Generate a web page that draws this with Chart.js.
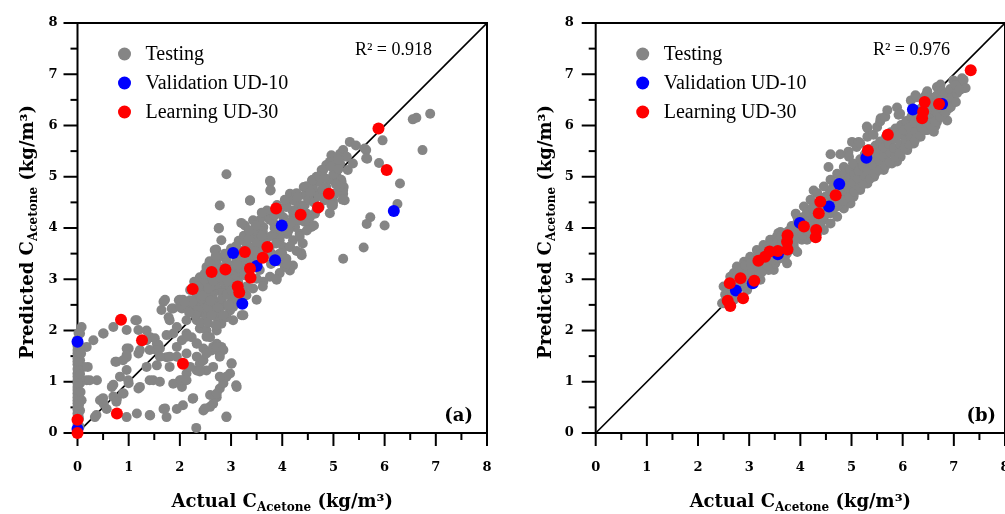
<!DOCTYPE html>
<html>
<head>
<meta charset="utf-8">
<script src="https://cdn.jsdelivr.net/npm/chart.js@4.4.1/dist/chart.umd.min.js"></script>
<style>
  body { margin: 0; background: #fff; width: 1005px; height: 514px; overflow: hidden; position: relative; }
  .panel { position: absolute; top: 0; height: 514px; }
</style>
</head>
<body>
<div class="panel" style="left:0;width:500px"><canvas id="chartA"></canvas></div>
<!-- panel b runs past the right edge of the window, like the cropped original -->
<div class="panel" style="left:500px;width:511px"><canvas id="chartB"></canvas></div>
<script>
// ---- data: [actual, predicted] in kg/m3 ----
const testingA = [
  [6.89,6.23],[6.62,6.15],[6.55,6.12],[6.74,5.52],[5.96,5.71],[5.89,5.27],[6.30,4.87],[6.25,4.47],[6.00,4.05],[5.72,4.21],
  [5.65,4.08],[5.59,3.62],[5.19,3.40],[5.61,5.55],[5.66,5.35],[5.32,5.68],[5.44,5.61],[5.19,5.52],[5.13,5.45],[4.96,5.42],
  [4.93,5.29],[5.03,5.19],[5.13,5.26],[5.16,4.90],[5.20,4.80],[5.22,4.54],[5.19,4.67],[4.99,4.44],[4.77,5.13],[4.67,5.00],
  [4.58,4.93],[4.42,4.80],[4.60,4.80],[4.73,4.90],[4.44,4.64],[4.57,4.02],[4.38,3.47],[4.15,3.17],[4.05,3.24],[3.89,3.01],
  [4.10,3.89],[4.15,4.67],[4.21,4.54],[4.31,4.47],[4.20,4.34],[4.08,4.41],[4.02,4.21],[3.82,4.12],[3.92,3.89],[3.77,4.90],
  [3.77,4.73],[3.37,4.54],[2.91,5.05],[2.78,4.44],[2.76,3.99],[2.81,3.76],[2.71,3.58],[3.27,4.05],[3.43,3.89],[3.56,3.95],
  [3.66,3.76],[3.63,4.02],[3.72,3.82],[2.39,3.04],[2.52,2.91],[2.33,2.65],[2.20,2.59],[2.13,2.46],[2.04,2.43],[2.39,2.52],
  [2.52,2.59],[2.65,2.72],[2.78,2.78],[2.91,2.85],[3.04,2.91],[2.98,3.04],[3.11,3.11],[3.24,3.24],[3.17,3.37],[3.43,3.43],
  [3.56,3.63],[3.30,3.69],[2.52,3.24],[2.65,3.30],[2.78,3.24],[2.43,2.85],[2.26,2.39],[2.46,2.33],[2.65,2.43],[2.72,2.26],
  [2.85,2.49],[3.01,2.56],[3.24,2.30],[3.04,2.20],[2.33,2.20],[2.39,2.04],[2.52,2.00],[2.59,1.87],[2.72,1.74],[2.78,1.55],
  [2.62,1.61],[2.46,1.65],[2.33,1.74],[2.23,1.87],[2.13,1.94],[2.04,1.81],[1.94,1.68],[1.87,1.94],[1.74,1.91],[1.98,2.59],
  [1.87,2.43],[1.68,2.56],[1.78,2.26],[2.13,2.20],[2.46,1.42],[2.52,1.22],[2.33,1.22],[2.39,1.35],[3.01,1.35],[2.98,1.16],
  [2.85,1.03],[2.78,0.87],[2.72,0.70],[2.65,0.57],[2.59,0.51],[2.46,0.44],[3.10,0.93],[2.91,0.31],[2.32,0.10],[2.25,0.67],
  [2.06,0.54],[1.94,0.47],[1.68,0.47],[1.42,0.34],[2.04,0.90],[2.00,1.03],[2.13,1.16],[1.74,1.48],[1.55,1.32],[1.48,1.03],
  [1.35,1.29],[1.55,1.74],[1.61,1.65],[1.42,1.87],[1.13,2.20],[1.35,2.00],[1.19,1.55],[1.00,1.65],[0.96,1.48],[1.00,0.97],
  [1.19,0.87],[0.90,0.77],[0.77,0.67],[0.67,0.90],[0.74,1.39],[0.70,2.07],[0.51,1.94],[0.31,1.81],[0.18,1.68],[0.20,1.29],
  [0.18,1.03],[0.38,1.03],[0.44,0.64],[0.51,0.57],[0.57,0.47],[0.34,0.31],[0.96,0.31],[1.16,0.38],[1.74,0.31],[1.61,1.00],
  [1.87,0.96],[2.13,1.55],[0.05,1.94],[0.08,2.07],[0.05,1.42],[0.12,1.29],[0.05,0.97],[0.08,0.64],[0.05,0.44],[0,1.55],
  [0,1.16],[0,0.77],[0,0.51],[0,1.03],[0,1.34],[0,0.90],[0,0.64],[0,0.38],[0,0.16],[0,1.70],
  [0,1.46],[0,1.25],[0.03,0.28],[0.04,0.12],[0,0.25],[0,0.46],[0,0.58],[0,0.70],[0,0.84],[0,0.97],
  [0,1.10],[0,1.40],[0,1.62],[0,1.82],[0.02,1.95],[0.03,0.55],[0.06,0.80],[0.05,1.15],[0.04,1.70],[0.07,1.55],
  [0.02,0.35],[3.95,3.76],[4.02,3.63],[4.15,3.63],[4.21,3.76],[4.34,3.89],[4.08,3.89],[4.25,4.02],[4.41,4.15],[4.54,4.21],
  [4.64,4.28],[4.73,4.41],[4.83,4.54],[4.93,4.60],[5.03,4.67],[4.86,4.80],[4.99,4.93],[5.06,5.03],[5.28,5.13],[5.38,5.26],
  [5.26,5.39],[5.09,5.39],[4.99,4.54],[3.70,4.21],[3.56,4.15],[3.70,4.34],[3.43,4.15],[3.50,3.76],[3.37,3.63],[3.79,3.50],
  [3.95,3.50],[4.08,3.40],[4.21,3.27],[3.34,3.37],[3.04,3.27],[3.11,3.43],[2.91,3.37],[2.75,3.43],[3.50,3.01],[3.63,2.95],
  [3.43,2.82],[3.30,2.69],[3.21,2.30],[3.11,2.59],[2.98,2.39],[2.91,2.26],[2.81,2.13],[2.72,2.00],[2.65,1.68],[2.81,1.68],
  [3.76,4.92],[3.77,4.74],[3.37,4.53],[4.86,5.23],[5.12,4.94],[5.18,4.55],[3.20,4.10],[2.76,4.00],[2.68,3.57],[4.28,4.68],
  [4.47,4.81],[4.60,4.94],[4.73,4.68],[4.99,4.49],[4.54,4.03],[4.34,3.83],[4.15,3.64],[3.95,3.83],[3.62,3.93],[3.50,3.71],
  [3.30,3.57],[3.11,3.38],[2.91,3.25],[2.72,3.38],[2.52,3.18],[2.39,2.99],[2.20,2.79],[2.06,2.60],[2.39,2.46],[2.65,2.60],
  [2.84,2.73],[3.04,2.46],[2.78,2.34],[2.52,2.27],[3.56,3.18],[3.76,3.05],[3.95,3.12],[4.08,3.31],[3.62,2.86],[3.30,2.86],
  [3.50,2.60],[3.89,2.99],[4.15,4.03],[4.21,4.22],[4.67,4.35],[4.93,4.29],[3.82,3.44],[3.69,3.51],[4.08,4.42],[3.95,4.29],
  [3.76,4.16],[0.50,1.94],[0.96,2.01],[1.16,2.20],[1.19,2.01],[1.51,1.85],[1.58,1.72],[1.71,2.60],[1.84,2.43],[1.64,2.40],
  [2.00,2.46],[2.00,2.60],[1.80,2.20],[1.94,2.07],[2.13,1.88],[1.61,1.49],[1.54,1.62],[1.41,1.62],[0.96,1.65],[0.96,1.52],
  [0.76,1.39],[0.89,1.42],[0.24,1.03],[0.70,0.94],[0.83,1.10],[0.99,1.03],[1.22,0.90],[1.41,1.03],[0.50,0.68],[0.70,0.71],
  [0.89,0.77],[0.37,0.35],[1.41,0.35],[1.71,0.48],[2.03,1.03],[1.80,1.49],[1.80,1.29],[2.20,1.29],[2.13,1.03],[2.26,0.68],
  [2.49,0.48],[2.59,0.74],[2.72,0.77],[2.85,0.97],[2.91,1.10],[3.01,1.36],[2.91,0.32],[3.11,0.90],[2.45,1.42],[2.52,1.55],
  [2.33,1.75],[2.52,1.88],[2.72,1.68],[2.85,1.62],[2.78,1.49],[2.65,1.29],[2.78,1.10],[2.33,1.49],[2.39,1.20],[1.35,1.81],
  [1.22,1.62],[0.96,1.23],[0.76,0.61],[1.94,1.49],[5.09,5.33],[5.64,5.52],[5.64,5.36],[5.15,4.94],[5.19,4.74],[4.80,5.13],
  [4.73,5.00],[4.47,4.81],[4.96,4.45],[4.44,4.45],[4.44,4.12],[4.60,4.74],[5.12,4.81],[4.37,3.51],
  // dense cluster round (2.7, 2.7) and the band above it
  [2.25,2.55],[2.30,2.75],[2.35,2.40],[2.42,2.62],[2.45,2.78],[2.48,2.95],[2.55,2.45],[2.58,2.70],[2.60,2.85],[2.62,3.05],
  [2.68,2.55],[2.70,2.90],[2.73,3.10],[2.75,2.45],[2.82,2.62],[2.85,2.95],[2.88,3.12],[2.92,2.70],[2.95,2.50],[2.97,3.18],
  [3.02,2.78],[3.06,3.00],[3.08,2.68],[3.14,2.95],[3.18,3.20],[3.20,2.80],[3.26,3.08],[3.28,3.45],[3.35,3.15],[3.40,3.30],
  [3.45,3.55],[3.52,3.45],[2.30,2.30],[2.40,2.15],[2.55,2.15],[2.62,2.30],[2.70,2.10],[2.85,2.30],[2.18,2.35],[2.10,2.55],
  [2.28,2.95],[2.48,3.10],[2.58,3.35],[2.70,3.45],[2.88,3.50],[3.00,3.60],[3.15,3.75],[3.25,3.85],[3.35,3.80],[3.45,3.95],
  [3.60,3.85],[3.62,3.55],[3.75,3.60],[3.80,3.85],[3.88,3.70],[3.85,4.00],[3.98,3.95],[4.05,4.05],[4.12,3.95],[4.18,4.12],
  [4.28,4.30],[4.35,4.15],[4.40,4.40],[4.48,4.28],[4.52,4.55],[4.62,4.50],[4.70,4.62],[4.78,4.75],[4.85,4.65],[4.90,4.95],
  [5.00,5.05],[5.05,4.85],[4.95,5.20],[5.10,5.15],[4.82,4.98],[4.55,4.70],[4.30,4.60],[4.05,4.55],[3.90,4.45],[3.85,4.25],
  [3.60,4.30],[3.48,4.05],[3.35,3.95],[3.20,3.55],[3.10,3.65],[3.92,3.35],[4.00,3.50],[3.78,3.30],[4.28,3.55],[4.40,3.70],
  [4.48,3.95],[4.62,4.05],[2.44,2.68],[2.56,2.82],[2.66,2.96],[2.80,3.02],[2.94,2.96],[3.12,3.28],[2.36,2.86],[2.60,2.58]
];
const validationA = [
  [6.18,4.33],[3.99,4.05],[3.04,3.51],[3.50,3.26],[3.86,3.37],[3.22,2.52],[0,1.78],[0,0.08]
];
const learningA = [
  [5.88,5.94],[6.04,5.13],[4.91,4.67],[4.70,4.40],[4.36,4.26],[3.88,4.38],[3.71,3.63],[3.27,3.53],[3.62,3.42],[3.37,3.21],
  [3.38,3.03],[2.89,3.19],[2.62,3.14],[3.13,2.86],[3.16,2.74],[2.25,2.81],[0.85,2.21],[1.26,1.81],[2.06,1.35],[0.77,0.38],
  [0,0.26],[0,0]
];

const testingB = [
  [2.47,2.53],[2.53,2.70],[2.50,2.53],[2.57,2.73],[2.66,2.99],[2.73,2.86],[2.70,2.86],[2.70,2.60],[2.63,3.05],[2.50,2.86],
  [2.70,3.12],[2.76,3.05],[2.76,3.25],[2.82,3.12],[2.83,2.95],[2.90,3.21],[2.90,3.34],[2.92,3.05],[2.96,2.79],[2.99,3.05],
  [2.99,3.18],[3.02,3.44],[3.09,3.31],[3.12,3.25],[3.15,3.15],[3.15,3.57],[3.22,2.99],[3.25,3.18],[3.28,3.25],[3.28,3.51],
  [3.28,3.67],[3.31,3.38],[3.35,3.64],[3.38,3.18],[3.41,3.77],[3.44,3.70],[3.45,3.31],[3.48,3.18],[3.51,3.31],[3.54,3.73],
  [3.54,3.83],[3.57,3.90],[3.57,3.77],[3.61,3.41],[3.61,3.92],[3.64,3.64],[3.67,3.90],[3.70,3.44],[3.74,3.51],[3.74,3.31],
  [3.81,3.96],[3.87,3.67],[3.90,3.57],[3.91,4.28],[3.94,3.53],[3.94,4.09],[3.94,4.22],[3.96,4.03],[4.00,3.80],[4.03,3.77],
  [4.07,4.22],[4.07,4.42],[4.13,3.77],[4.16,3.83],[4.16,4.22],[4.20,3.96],[4.20,4.32],[4.20,4.55],[4.26,4.73],[4.29,4.10],
  [4.29,4.42],[4.33,3.90],[4.33,4.45],[4.33,4.68],[4.39,4.06],[4.46,4.16],[4.46,3.96],[4.46,4.81],[4.49,4.29],[4.49,4.61],
  [4.55,5.19],[4.59,5.44],[4.59,4.29],[4.59,4.09],[4.59,4.94],[4.62,4.42],[4.62,4.75],[4.65,4.81],[4.72,4.42],[4.72,4.22],
  [4.72,5.06],[4.78,5.44],[4.78,4.94],[4.79,4.58],[4.81,4.62],[4.81,4.94],[4.85,4.38],[4.85,5.19],[4.91,4.91],[4.92,4.68],
  [4.92,5.00],[4.94,4.81],[4.94,5.49],[4.95,5.39],[4.98,4.81],[4.98,4.48],[5.04,4.61],[5.04,5.13],[5.04,4.65],[5.07,4.94],
  [5.10,5.58],[5.01,5.68],[5.11,4.87],[5.14,5.68],[5.17,4.74],[5.17,5.26],[5.17,5.65],[5.17,5.17],[5.21,5.07],[5.27,5.06],
  [5.30,5.98],[5.31,5.95],[5.31,5.78],[5.31,4.87],[5.37,5.45],[5.43,5.82],[5.43,5.04],[5.44,5.19],[5.44,5.00],[5.50,5.58],
  [5.50,5.97],[5.56,6.08],[5.57,6.14],[5.57,5.39],[5.63,5.65],[5.63,5.13],[5.63,5.43],[5.66,6.17],[5.69,5.30],[5.70,6.30],
  [5.76,5.49],[5.76,5.71],[5.79,5.26],[5.89,6.35],[5.89,5.30],[5.92,6.21],[5.92,5.84],[5.95,6.23],[5.96,5.58],[5.96,5.39],
  [6.02,5.82],[6.09,5.52],[6.09,5.97],[6.16,5.84],[6.16,6.49],[6.22,5.65],[6.25,6.59],[6.28,6.04],[6.28,6.55],[6.28,6.08],
  [6.35,5.78],[6.35,5.95],[6.41,6.17],[6.45,6.59],[6.48,5.91],[6.48,6.67],[6.53,6.04],[6.54,6.30],[6.54,6.55],[6.61,6.04],
  [6.61,5.88],[6.64,5.99],[6.67,6.75],[6.67,6.07],[6.74,6.23],[6.74,6.69],[6.74,6.80],[6.87,6.36],[6.87,6.10],[6.90,6.33],
  [6.97,6.56],[6.97,6.43],[6.99,6.88],[7.00,6.49],[7.13,6.82],[7.16,6.92],[7.16,6.72],[7.19,6.89],[7.23,6.73],
  // filling of the solid band
  [2.56,2.62],[2.58,2.81],[2.64,2.69],[2.67,2.93],[2.74,2.77],[2.78,2.97],[2.86,2.86],[2.87,3.03],[2.84,3.16],[2.94,2.93],
  [2.97,3.13],[2.93,3.27],[3.04,3.01],[3.06,3.16],[3.03,3.31],[3.14,3.07],[3.17,3.24],[3.16,3.42],[3.24,3.13],[3.26,3.36],
  [3.23,3.49],[3.36,3.27],[3.34,3.46],[3.33,3.57],[3.46,3.37],[3.44,3.53],[3.43,3.66],[3.56,3.42],[3.53,3.61],[3.56,3.74],
  [3.66,3.52],[3.64,3.71],[3.63,3.84],[3.76,3.62],[3.73,3.79],[3.77,3.94],[3.84,3.71],[3.86,3.86],[3.83,4.04],[3.93,3.79],
  [3.97,3.96],[3.95,4.14],[4.04,3.87],[4.06,4.06],[4.03,4.19],[4.14,3.94],[4.16,4.11],[4.13,4.31],[4.24,4.03],[4.26,4.21],
  [4.23,4.39],[4.36,4.11],[4.34,4.31],[4.37,4.49],[4.44,4.22],[4.46,4.37],[4.43,4.57],[4.56,4.29],[4.54,4.47],[4.57,4.67],
  [4.64,4.36],[4.66,4.56],[4.63,4.74],[4.76,4.46],[4.74,4.66],[4.73,4.84],[4.77,5.01],[4.84,4.53],[4.86,4.73],[4.83,4.89],
  [4.87,5.06],[4.96,4.61],[4.93,4.79],[4.96,4.99],[4.97,5.14],[5.06,4.71],[5.03,4.89],[5.06,5.04],[5.03,5.26],[5.16,4.79],
  [5.13,4.96],[5.14,5.11],[5.17,5.34],[5.24,4.86],[5.26,5.01],[5.23,5.21],[5.26,5.44],[5.36,4.96],[5.33,5.13],[5.36,5.29],
  [5.34,5.54],[5.46,5.06],[5.43,5.23],[5.44,5.39],[5.47,5.61],[5.54,5.13],[5.56,5.31],[5.53,5.47],[5.56,5.69],[5.66,5.21],
  [5.64,5.39],[5.63,5.57],[5.67,5.77],[5.74,5.29],[5.76,5.47],[5.73,5.64],[5.77,5.87],[5.86,5.39],[5.84,5.56],[5.83,5.74],
  [5.86,5.94],[5.94,5.46],[5.96,5.63],[5.93,5.81],[5.97,6.01],[6.04,5.56],[6.06,5.71],[6.03,5.91],[6.07,6.09],[6.14,5.63],
  [6.16,5.79],[6.13,5.97],[6.17,6.17],[6.24,5.71],[6.26,5.89],[6.23,6.06],[6.27,6.24],[6.34,5.81],[6.36,5.97],[6.33,6.14],
  [6.37,6.34],[6.44,5.91],[6.46,6.06],[6.43,6.23],[6.47,6.41],[6.54,6.01],[6.56,6.14],[6.53,6.33],[6.57,6.49],[6.64,6.09],
  [6.66,6.26],[6.63,6.41],[6.67,6.59],[6.74,6.16],[6.76,6.33],[6.73,6.49],[6.77,6.67],[6.84,6.26],[6.86,6.43],[6.83,6.61],
  [6.94,6.36],[6.96,6.54],[6.93,6.71],[7.04,6.46],[7.06,6.63],[7.03,6.79],[7.11,6.69]
];
const validationB = [
  [6.77,6.42],[6.20,6.31],[5.29,5.37],[4.76,4.86],[4.56,4.42],[3.99,4.10],[3.56,3.49],[3.07,2.92],[2.74,2.78]
];
const learningB = [
  [7.33,7.08],[6.71,6.42],[6.43,6.46],[6.40,6.27],[6.38,6.14],[5.71,5.82],[5.32,5.51],[4.69,4.64],[4.39,4.51],[4.36,4.29],
  [4.31,3.96],[4.30,3.82],[4.07,4.03],[3.75,3.86],[3.74,3.73],[3.75,3.58],[3.56,3.55],[3.40,3.54],[3.31,3.44],[3.18,3.36],
  [3.10,2.97],[2.83,3.02],[2.62,2.92],[2.88,2.63],[2.58,2.58],[2.63,2.48]
];

const identityLine = [[0,0],[8,8]];
const seriesNames = ['Testing', 'Validation UD-10', 'Learning UD-30'];
const seriesColors = ['#858585', '#0000ff', '#ff0000'];
const axisMin = 0, axisMax = 8;

const TITLE_FONT = "bold 18px 'DejaVu Serif'";
const SUB_FONT = "bold 12px 'DejaVu Serif'";

function toXY(list) {
    return list.map(p => ({x: p[0], y: p[1]}));
}

// draws a run of text pieces (for the subscript) centred on cx
function drawMixed(ctx, parts, cx, baseline) {
    var total = 0;
    for (const p of parts) {
        ctx.font = p.font;
        p.w = ctx.measureText(p.text).width;
        total += p.w;
    }
    var x = cx - total / 2;
    ctx.textAlign = 'left';
    ctx.textBaseline = 'alphabetic';
    for (const p of parts) {
        ctx.font = p.font;
        ctx.fillText(p.text, x, baseline + p.dy);
        x += p.w;
    }
}

// frame round the plot plus major/minor tick marks
const framePlugin = {
    id: 'frame',
    beforeDatasetsDraw(chart) {
        const {ctx, chartArea: a, scales} = chart;
        ctx.save();
        ctx.strokeStyle = '#000';
        ctx.lineWidth = 2;
        ctx.strokeRect(a.left, a.top, a.right - a.left, a.bottom - a.top);
        for (const t of scales.x.ticks) {
            const len = Number.isInteger(t.value) ? 13 : 7;
            const px = scales.x.getPixelForValue(t.value);
            ctx.beginPath();
            ctx.moveTo(px, a.bottom);
            ctx.lineTo(px, a.bottom + len);
            ctx.stroke();
        }
        for (const t of scales.y.ticks) {
            const len = Number.isInteger(t.value) ? 14 : 7;
            const py = scales.y.getPixelForValue(t.value);
            ctx.beginPath();
            ctx.moveTo(a.left, py);
            ctx.lineTo(a.left - len, py);
            ctx.stroke();
        }
        ctx.restore();
    }
};

// legend, R2 note, panel tag and the axis titles with subscripts
const textPlugin = {
    id: 'panelText',
    afterDraw(chart, args, opts) {
        const {ctx, chartArea: a} = chart;
        ctx.save();

        var row = 0;
        for (const ds of chart.data.datasets) {
            if (!ds.label) continue;
            const y = a.top + 31 + row * 29;
            ctx.beginPath();
            ctx.fillStyle = ds.backgroundColor;
            ctx.arc(a.left + 47, y, 6.5, 0, Math.PI * 2);
            ctx.fill();
            ctx.fillStyle = '#000';
            ctx.font = "20px 'Liberation Serif'";
            ctx.textAlign = 'left';
            ctx.textBaseline = 'middle';
            ctx.fillText(ds.label, a.left + 68, y + 1);
            row++;
        }

        ctx.fillStyle = '#000';
        ctx.font = "18px 'Liberation Serif'";
        ctx.textAlign = 'right';
        ctx.textBaseline = 'middle';
        ctx.fillText(opts.r2, a.right - 55, a.top + 27);

        ctx.font = "bold 18px 'DejaVu Serif'";
        ctx.fillText(opts.tag, a.right - opts.tagInset, a.bottom - 17);

        drawMixed(ctx, [
            {text: 'Actual C', font: TITLE_FONT, dy: 0},
            {text: 'Acetone', font: SUB_FONT, dy: 4},
            {text: ' (kg/m\u00b3)', font: TITLE_FONT, dy: 0}
        ], (a.left + a.right) / 2, a.bottom + 74);

        ctx.translate(a.left - 45, (a.top + a.bottom) / 2 + 4);
        ctx.rotate(-Math.PI / 2);
        drawMixed(ctx, [
            {text: 'Predicted C', font: TITLE_FONT, dy: 0},
            {text: 'Acetone', font: SUB_FONT, dy: 4},
            {text: ' (kg/m\u00b3)', font: TITLE_FONT, dy: 0}
        ], 0, 0);
        ctx.restore();
    }
};

function makeAxis(pad, fitFn) {
    return {
        type: 'linear',
        min: axisMin,
        max: axisMax,
        grid: {display: false, drawTicks: false},
        border: {display: false},
        ticks: {
            stepSize: 0.5,
            padding: pad,
            color: '#000',
            font: {family: 'DejaVu Serif', weight: 'bold', size: 13},
            callback: v => Number.isInteger(v) ? v : ''
        },
        afterFit: fitFn
    };
}

function createPanel(id, testing, validation, learning, cfg) {
    return new Chart(document.getElementById(id), {
        type: 'scatter',
        data: {
            datasets: [{
                label: seriesNames[0],
                data: toXY(testing),
                backgroundColor: seriesColors[0],
                pointRadius: 5,
                borderWidth: 0,
                order: 3,
                clip: false
            }, {
                label: seriesNames[1],
                data: toXY(validation),
                backgroundColor: seriesColors[1],
                pointRadius: 6,
                borderWidth: 0,
                order: 2,
                clip: false
            }, {
                label: seriesNames[2],
                data: toXY(learning),
                backgroundColor: seriesColors[2],
                pointRadius: 6,
                borderWidth: 0,
                order: 1,
                clip: false
            }, {
                data: toXY(identityLine),
                showLine: true,
                borderColor: '#000',
                borderWidth: 1.6,
                pointRadius: 0,
                order: 4
            }]
        },
        options: {
            responsive: true,
            maintainAspectRatio: false,
            animation: false,
            events: [],
            layout: {
                padding: {left: 0, right: cfg.padRight, top: 23, bottom: 0}
            },
            scales: {
                x: makeAxis(27, s => { s.height = 81; s.paddingLeft = 0; s.paddingRight = 0; }),
                y: makeAxis(cfg.yPad, s => { s.width = cfg.yWidth; s.paddingTop = 0; s.paddingBottom = 0; })
            },
            plugins: {
                legend: {display: false},
                tooltip: {enabled: false},
                panelText: {r2: cfg.r2, tag: cfg.tag, tagInset: cfg.tagInset}
            }
        },
        plugins: [framePlugin, textPlugin]
    });
}

createPanel('chartA', testingA, validationA, learningA,
    {yWidth: 77.5, yPad: 20, padRight: 13, r2: 'R\u00b2 = 0.918', tag: '(a)', tagInset: 14});
createPanel('chartB', testingB, validationB, learningB,
    {yWidth: 95.7, yPad: 22, padRight: 1, r2: 'R\u00b2 = 0.976', tag: '(b)', tagInset: 9});
</script>
</body>
</html>
